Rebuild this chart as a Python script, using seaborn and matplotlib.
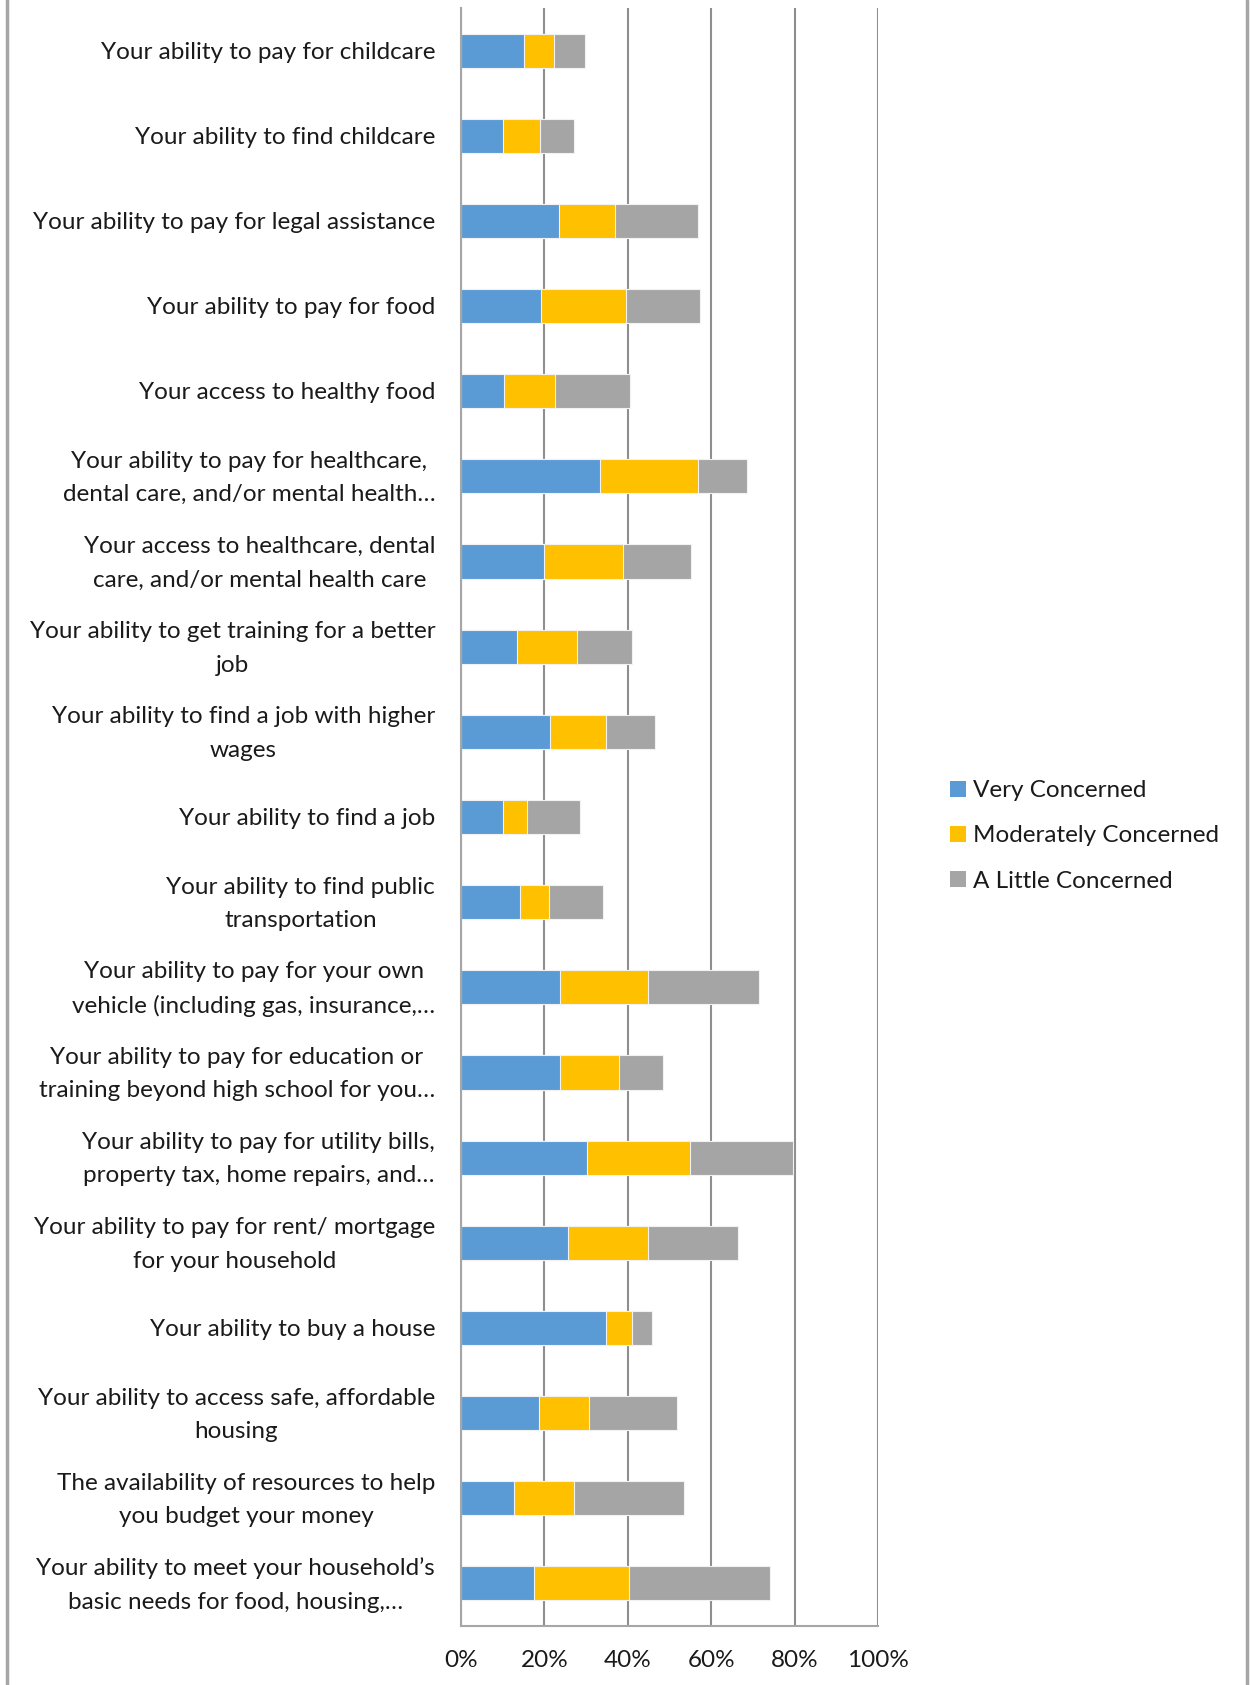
import numpy as np
import pandas as pd
import seaborn as sns
import matplotlib.pyplot as plt
from matplotlib.patches import Patch
from matplotlib.lines import Line2D
from matplotlib.ticker import PercentFormatter, FixedLocator

# === DATA ===
categories = [
    "Your ability to pay for childcare",
    "Your ability to find childcare",
    "Your ability to pay for legal assistance",
    "Your ability to pay for food",
    "Your access to healthy food",
    "Your ability to pay for healthcare,\ndental care, and/or mental health\u2026",
    "Your access to healthcare, dental\ncare, and/or mental health care",
    "Your ability to get training for a better\njob",
    "Your ability to find a job with higher\nwages",
    "Your ability to find a job",
    "Your ability to find public\ntransportation",
    "Your ability to pay for your own\nvehicle (including gas, insurance,\u2026",
    "Your ability to pay for education or\ntraining beyond high school for you\u2026",
    "Your ability to pay for utility bills,\nproperty tax, home repairs, and\u2026",
    "Your ability to pay for rent/ mortgage\nfor your household",
    "Your ability to buy a house",
    "Your ability to access safe, affordable\nhousing",
    "The availability of resources to help\nyou budget your money",
    "Your ability to meet your household\u2019s\nbasic needs for food, housing,\u2026",
]
very_concerned = [15.1, 10.1, 23.5, 19.2, 10.2, 33.3, 20.0, 13.4, 21.4, 10.1,
                  14.2, 23.8, 23.8, 30.2, 25.6, 34.8, 18.6, 12.7, 17.6]
moderately_concerned = [7.1, 8.9, 13.4, 20.3, 12.4, 23.6, 18.9, 14.4, 13.3, 5.7,
                        6.8, 21.0, 14.2, 24.7, 19.2, 6.3, 12.1, 14.5, 22.6]
little_concerned = [7.5, 8.2, 19.9, 17.8, 17.9, 11.7, 16.2, 13.1, 11.9, 12.8,
                    13.0, 26.6, 10.5, 24.7, 21.6, 4.8, 21.1, 26.2, 34.0]
series_names = ["Very Concerned", "Moderately Concerned", "A Little Concerned"]
x_ticks = [0, 20, 40, 60, 80, 100]

COLORS = ["#5B9BD5", "#FFC000", "#A5A5A5"]
GRID = "#8E8E8E"
TEXT = "#1A1A1A"
FS = 17.5

sns.set_style("white")
plt.rcParams["font.family"] = ["Lato", "DejaVu Sans"]

df = pd.DataFrame({
    "item": categories,
    "very": np.array(very_concerned) / 100,
    "moderate": np.array(moderately_concerned) / 100,
    "little": np.array(little_concerned) / 100,
})
df["upto_moderate"] = df["very"] + df["moderate"]
df["total"] = df["upto_moderate"] + df["little"]

fig = plt.figure(figsize=(12.5, 16.85), dpi=100)
ax = fig.add_axes([461 / 1250, 59 / 1685, 417 / 1250, 1618 / 1685])

# stacked bars: draw cumulative totals back to front
for col, color in [("total", COLORS[2]), ("upto_moderate", COLORS[1]), ("very", COLORS[0])]:
    sns.barplot(data=df, x=col, y="item", order=categories, orient="h", color=color,
                width=0.4, edgecolor="#F2F2F2", linewidth=0.8, saturation=1, ax=ax)

ax.set_xlim(0, 1)
ax.set_ylim(len(categories) - 0.5, -0.5)
ax.set_xlabel("")
ax.set_ylabel("")
ax.xaxis.set_major_locator(FixedLocator([t / 100 for t in x_ticks]))
ax.xaxis.set_major_formatter(PercentFormatter(1.0, decimals=0))
ax.grid(axis="x", color=GRID, linewidth=1.5)
ax.grid(axis="y", visible=False)
ax.set_axisbelow(True)

for side in ["top", "right"]:
    ax.spines[side].set_visible(False)
for side in ["left", "bottom"]:
    ax.spines[side].set_color("#A6A6A6")
    ax.spines[side].set_linewidth(1.5)

ax.set_yticks(range(len(categories)))
ax.set_yticklabels([])
ax.yaxis.set_minor_locator(FixedLocator(np.arange(-0.5, len(categories), 1)))
ax.tick_params(axis="y", which="major", length=0)
ax.tick_params(axis="y", which="minor", length=6, width=1.5, color="#A6A6A6", direction="out")
ax.tick_params(axis="x", which="major", length=6, width=1.5, color="#A6A6A6",
               direction="out", pad=11, labelsize=FS, labelcolor=TEXT)

# wrapped category labels, centred line by line like the source chart
ylab_trans = ax.get_yaxis_transform()
for i, name in enumerate(categories):
    ax.text(-0.062, i + 0.02, name, transform=ylab_trans, ha="right", va="center",
            multialignment="center", linespacing=1.72, fontsize=FS, color=TEXT)

handles = [Patch(facecolor=c, edgecolor="none") for c in COLORS]
fig.legend(handles, series_names, loc="center left",
           bbox_to_anchor=(928 / 1250, 1 - 836 / 1685), frameon=False,
           fontsize=FS, handlelength=0.65, handleheight=0.65, handletextpad=0.3,
           labelspacing=1.0, labelcolor=TEXT)

# outer chart border lines
fig.add_artist(Line2D([7 / 1250, 7 / 1250], [0, 1], color="#A6A6A6", linewidth=2.5))
fig.add_artist(Line2D([1247 / 1250, 1247 / 1250], [0, 1], color="#A6A6A6", linewidth=2.5))

fig.savefig("out.png", dpi=100, facecolor="white")
